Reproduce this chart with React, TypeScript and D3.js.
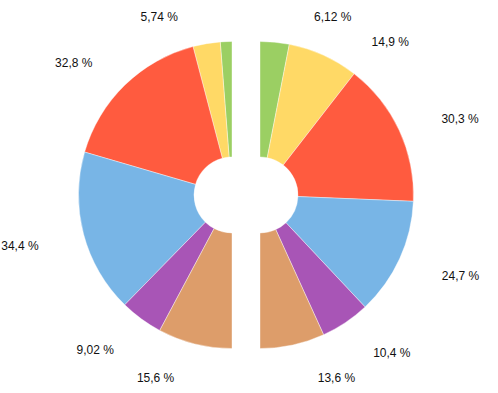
import * as d3 from "d3";
import React from "react";

// two half donuts: right half and left half, same category order
const sliceColors = ["#9bcf63", "#ffd966", "#ff5b3f", "#78b5e6", "#a855b6", "#dd9d6a"];
const rightValues = [6.12, 14.9, 30.3, 24.7, 10.4, 13.6];
const leftValues = [2.44, 5.74, 32.8, 34.4, 9.02, 15.6];

const width = 498;
const height = 393;

const dims = {
  cy: 195,
  gap: 14,
  innerRadius: 38,
  outerRadius: 153.5,
  labelA: 200, // label ellipse, horizontal
  labelB: 188, // label ellipse, vertical
  labelCy: 198,
  labelMin: 17,
  labelMax: 378,
  labelGap: 25,
};

const fmt = (v: number) => String(v).replace(".", ",") + " %";

type Lbl = { y: number; x: number; text: string; key: number };

function HalfDonut({ values, side }: { values: number[]; side: "left" | "right" }) {
  const cx = width / 2 - 3 + (side === "right" ? dims.gap : -dims.gap);
  const pie = d3
    .pie<number>()
    .sort(null)
    .value((d) => d)
    .startAngle(0)
    .endAngle(side === "right" ? Math.PI : -Math.PI);
  const arcs = pie(values);
  const arcGenerator = d3.arc<d3.PieArcDatum<number>>().innerRadius(dims.innerRadius).outerRadius(dims.outerRadius);

  // natural label position on an ellipse, then push apart vertically
  let labels: Lbl[] = arcs
    .filter((a) => a.data >= 3)
    .map((a) => {
      const mid = (a.startAngle + a.endAngle) / 2;
      return { y: dims.labelCy - dims.labelB * Math.cos(mid), x: 0, text: fmt(a.data), key: a.index };
    })
    .sort((p, q) => p.y - q.y);

  for (let i = 0; i < labels.length; i++) {
    const prev = i > 0 ? labels[i - 1].y + dims.labelGap : dims.labelMin;
    labels[i].y = Math.max(labels[i].y, prev);
  }
  for (let i = labels.length - 1; i >= 0; i--) {
    const next = i < labels.length - 1 ? labels[i + 1].y - dims.labelGap : dims.labelMax;
    labels[i].y = Math.min(labels[i].y, next);
  }
  labels.forEach((l) => {
    const t = Math.min(1, Math.abs(l.y - dims.labelCy) / dims.labelB);
    const off = dims.labelA * Math.sqrt(1 - t * t);
    l.x = cx + (side === "right" ? off : -off);
  });

  return (
    <g>
      <g transform={`translate(${cx}, ${dims.cy})`}>
        {arcs.map((a, i) => (
          <path key={i} d={arcGenerator(a) || ""} fill={sliceColors[i]} stroke="#ffffff" strokeWidth={0.4} />
        ))}
      </g>
      {labels.map((l) => (
        <text
          key={l.key}
          x={l.x}
          y={l.y}
          textAnchor={side === "right" ? "start" : "end"}
          dominantBaseline="central"
          fontSize={12}
          fontFamily="'Liberation Sans', Arial, sans-serif"
          fill="#111"
        >
          {l.text}
        </text>
      ))}
    </g>
  );
}

export default function App() {
  return (
    <div style={{ position: "absolute", left: 0, top: 0 }}>
      <svg width={width} height={height} style={{ display: "block", background: "#fff" }}>
        <HalfDonut values={rightValues} side="right" />
        <HalfDonut values={leftValues} side="left" />
      </svg>
    </div>
  );
}
